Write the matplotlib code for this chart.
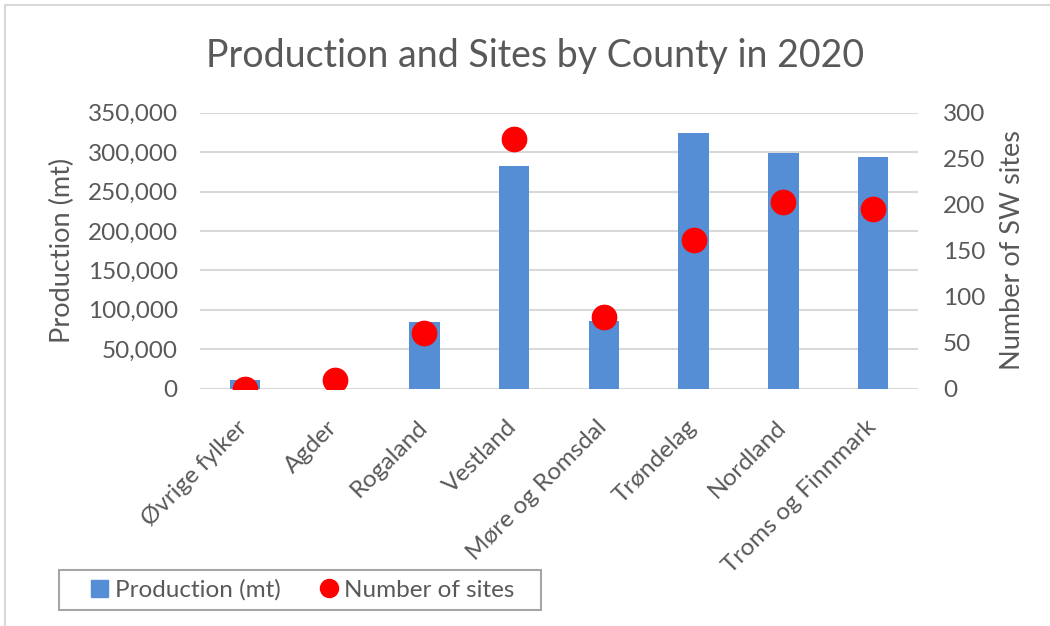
import numpy as np
import matplotlib.pyplot as plt
import matplotlib.transforms as mtrans
from matplotlib.lines import Line2D
from matplotlib.patches import Patch

plt.rcParams['font.family'] = ['Lato', 'DejaVu Sans']

counties = ["Øvrige fylker", "Agder", "Rogaland", "Vestland",
            "Møre og Romsdal", "Trøndelag", "Nordland", "Troms og Finnmark"]
production = [11000, 0, 85000, 283000, 86000, 324500, 299500, 294000]
sites = [0, 10, 61, 271, 78, 162, 203, 195]

grey = "#595959"
grid_c = "#d9d9d9"
bar_c = "#558ed5"

fig = plt.figure(figsize=(10.5, 6.26), dpi=100)
ax = fig.add_axes([200/1050, 1-388.7/626, 718/1050, 276/626])
ax2 = ax.twinx()

x = np.arange(len(counties))
ax.bar(x, production, width=0.34, color=bar_c, zorder=2)
ax2.plot(x, sites, 'o', color='#ff0000', markersize=17.5, zorder=3)

ax.set_xlim(-0.5, 7.5)
ax.set_ylim(0, 350000)
ax2.set_ylim(0, 300)
ax.set_yticks(np.arange(0, 350001, 50000))
ax.set_yticklabels([f"{v:,}" for v in range(0, 350001, 50000)])
ax2.set_yticks(np.arange(0, 301, 50))

ax.grid(axis='y', color=grid_c, linewidth=1.5, zorder=0)
ax.set_axisbelow(True)
for a in (ax, ax2):
    for s in a.spines.values():
        s.set_visible(False)
    a.tick_params(length=0, labelsize=17.5, colors=grey)
ax.tick_params(axis='y', pad=16)
ax2.tick_params(axis='y', pad=18)

ax.set_xticks(x)
ax.set_xticklabels(counties, rotation=45, ha='right', rotation_mode='anchor')
ax.tick_params(axis='x', pad=20)
shift = mtrans.ScaledTranslation(-8/100, 0, fig.dpi_scale_trans)
for lab in ax.get_xticklabels():
    lab.set_transform(lab.get_transform() + shift)

fig.text(0.51, 1-56/626, "Production and Sites by County in 2020",
         ha='center', va='center', fontsize=27, color=grey)
fig.text(62/1050, 1-250/626, "Production (mt)", rotation=90,
         ha='center', va='center', fontsize=19.5, color=grey)
fig.text(1012/1050, 1-250/626, "Number of SW sites", rotation=90,
         ha='center', va='center', fontsize=19.5, color=grey)

# outer chart border (cropped at right and bottom)
fig.add_artist(Line2D([5/1050, 5/1050], [0, 1-5/626], color=grid_c, lw=1.5))
fig.add_artist(Line2D([5/1050, 1], [1-5/626, 1-5/626], color=grid_c, lw=1.5))

# legend box
fig.add_artist(plt.Rectangle((59/1050, 1-610/626), 482/1050, 40/626,
                             fill=False, edgecolor='#a6a6a6', lw=1.5))
handles = [Patch(color=bar_c),
           Line2D([], [], marker='o', color='#ff0000', linestyle='none', markersize=13)]
fig.legend(handles, ["Production (mt)", "Number of sites"], loc='center',
           bbox_to_anchor=(303/1050, 1-590/626), ncol=2, frameon=False,
           fontsize=17.5, labelcolor=grey, handlelength=0.7, handleheight=0.7,
           handletextpad=0.3, columnspacing=1.6)

fig.savefig("out.png", dpi=100)
